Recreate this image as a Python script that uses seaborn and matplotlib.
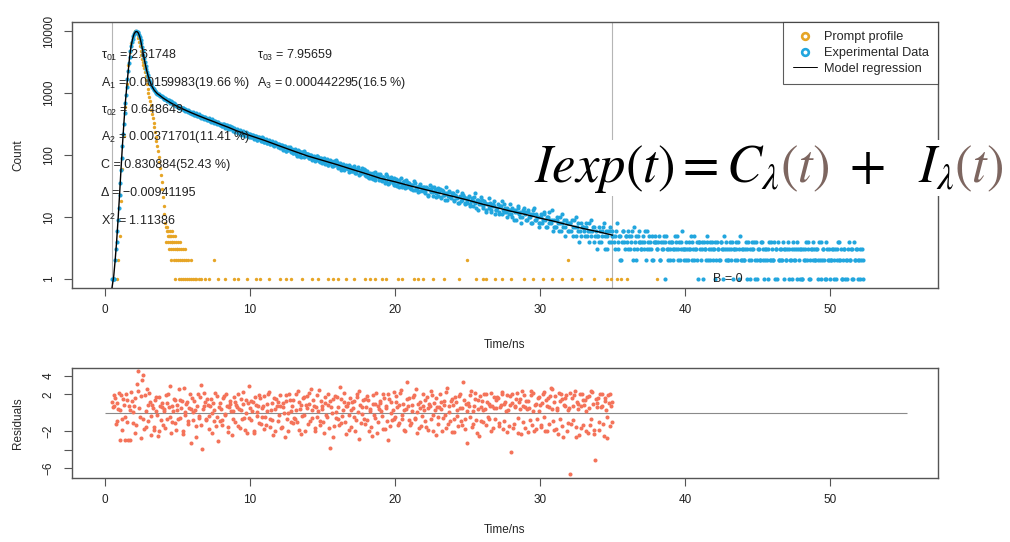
import numpy as np
import pandas as pd
import matplotlib
matplotlib.use("Agg")
import matplotlib.pyplot as plt
import seaborn as sns
from matplotlib.lines import Line2D
from matplotlib.patches import Rectangle
from matplotlib.transforms import IdentityTransform

# ---------------- data ----------------
# Time channels are 0.05 ns wide; counts of even channels start at 0.50 ns,
# counts of odd channels start at 0.55 ns.
channel_pitch_ns = 0.1
even_channel_start_ns = 0.5
odd_channel_start_ns = 0.55
experimental_counts_even = [
    1, 1, 2, 4, 9,
    23, 57, 142, 318, 690, 1255, 2240, 3870, 5690, 7420,
    8880, 9690, 9810, 9290, 7990, 6330, 4790, 3610, 2760, 2190,
    1790, 1530, 1330, 1215, 1105, 1045, 980, 950, 905, 880,
    847, 795, 812, 748, 761, 702, 728, 668, 671, 619,
    617, 579, 598, 547, 571, 521, 540, 489, 512, 470,
    461, 488, 441, 462, 418, 437, 402, 425, 383, 406,
    395, 361, 384, 343, 370, 331, 356, 318, 339, 305,
    322, 291, 311, 276, 301, 264, 289, 281, 247, 270,
    238, 262, 229, 251, 214, 241, 208, 233, 226, 197,
    219, 193, 210, 181, 205, 177, 198, 191, 168, 186,
    161, 182, 155, 175, 149, 170, 143, 164, 157, 137,
    152, 129, 144, 121, 139, 118, 134, 131, 111, 127,
    108, 125, 103, 119, 97, 113, 111, 92, 106, 102,
    104, 88, 101, 83, 97, 79, 95, 92, 76, 89,
    75, 91, 72, 86, 70, 83, 81, 66, 79, 74,
    77, 62, 74, 58, 71, 60, 69, 67, 54, 64,
    63, 55, 66, 51, 60, 57, 49, 61, 53, 58,
    46, 55, 43, 52, 48, 41, 54, 45, 50, 39,
    47, 38, 44, 35, 49, 41, 36, 45, 40, 33,
    33, 41, 36, 30, 43, 34, 38, 29, 37, 35,
    35, 28, 33, 38, 27, 31, 25, 34, 30, 26,
    31, 24, 29, 22, 33, 27, 25, 30, 21, 28,
    22, 28, 20, 26, 23, 30, 19, 25, 21, 24,
    24, 18, 22, 26, 17, 21, 19, 23, 16, 20,
    17, 22, 15, 20, 18, 24, 14, 19, 16, 21,
    19, 14, 17, 12, 16, 20, 13, 15, 18, 11,
    13, 16, 11, 15, 18, 12, 14, 10, 13, 16,
    11, 14, 9, 13, 12, 15, 10, 8, 12, 14,
    12, 9, 13, 10, 8, 11, 14, 9, 10, 7,
    8, 11, 9, 12, 7, 10, 8, 9, 13, 6,
    9, 7, 10, 6, 8, 11, 7, 5, 9, 8,
    6, 8, 9, 5, 7, 10, 6, 4, 8, 7,
    7, 5, 8, 6, 4, 9, 6, 7, 5, 3,
    5, 7, 4, 6, 8, 5, 3, 6, 7, 4,
    6, 4, 5, 8, 3, 5, 2, 6, 4, 5,
    4, 6, 3, 5, 2, 7, 5, 3, 6, 4,
    3, 5, 4, 2, 6, 3, 4, 5, 2, 4,
    4, 3, 5, 2, 3, 4, 1, 5, 3, 4,
    2, 4, 3, 5, 3, 2, 4, 3, 6, 3,
    3, 4, 2, 3, 5, 4, 2, 3, 4, 1,
    4, 2, 3, 4, 3, 5, 2, 4, 3, 2,
    3, 1, 4, 3, 2, 4, 3, 5, 2, 3,
    2, 4, 3, 1, 3, 4, 2, 3, 5, 2,
    3, 2, 4, 3, 2, 1, 4, 3, 2, 4,
    1, 3, 2, 4, 3, 2, 3, 1, 4, 2,
    3, 2, 1, 3, 4, 2, 3, 2, 1, 3,
    2, 4, 3, 2, 1, 3, 2, 4, 3, 1,
    3, 1, 2, 3, 2, 4, 1, 3, 2, 3,
    2, 3, 1, 2, 4, 3, 2, 1, 3, 2,
    1, 2, 3, 2, 1, 3, 4, 2, 1, 2,
    3, 2, 1, 4, 2, 3, 1, 2, 3, 2,
    2, 1, 3, 2,
]
experimental_counts_odd = [
    1, 1, 3, 6, 14,
    36, 90, 215, 470, 940, 1700, 3000, 4800, 6600, 8200,
    9350, 9850, 9600, 8750, 7150, 5500, 4150, 3150, 2450, 1980,
    1650, 1420, 1270, 1160, 1075, 1010, 965, 925, 895, 862,
    808, 826, 771, 785, 729, 744, 689, 701, 650, 628,
    603, 588, 566, 581, 539, 552, 507, 529, 481, 497,
    479, 447, 470, 429, 451, 411, 430, 394, 415, 377,
    372, 389, 352, 376, 338, 360, 325, 346, 311, 322,
    298, 315, 283, 304, 272, 293, 259, 278, 264, 243,
    255, 231, 247, 219, 236, 222, 203, 228, 211, 215,
    196, 212, 187, 201, 174, 194, 183, 171, 192, 162,
    176, 157, 168, 148, 163, 154, 139, 158, 145, 151,
    133, 147, 126, 138, 114, 131, 122, 137, 116, 109,
    121, 110, 98, 115, 104, 92, 109, 117, 95, 104,
    91, 99, 85, 94, 88, 83, 98, 79, 91, 81,
    86, 77, 81, 69, 78, 74, 67, 76, 70, 82,
    65, 72, 63, 70, 57, 66, 62, 59, 68, 56,
    56, 61, 52, 57, 64, 48, 55, 51, 59, 47,
    52, 45, 49, 42, 51, 46, 39, 48, 44, 50,
    39, 44, 41, 37, 46, 34, 42, 38, 35, 43,
    38, 32, 39, 35, 31, 37, 33, 40, 30, 34,
    29, 33, 27, 36, 30, 28, 32, 26, 29, 31,
    26, 30, 23, 28, 25, 31, 22, 27, 24, 29,
    25, 21, 27, 23, 19, 24, 22, 26, 20, 23,
    19, 23, 20, 17, 22, 18, 24, 21, 17, 19,
    20, 16, 18, 15, 21, 17, 19, 13, 18, 16,
    15, 18, 13, 16, 14, 17, 12, 16, 15, 13,
    14, 12, 15, 11, 13, 16, 12, 14, 11, 13,
    10, 13, 12, 9, 14, 11, 12, 10, 13, 11,
    9, 12, 10, 11, 8, 13, 9, 11, 10, 8,
    10, 8, 11, 9, 7, 10, 12, 8, 9, 7,
    7, 9, 8, 10, 6, 8, 9, 7, 8, 6,
    8, 6, 7, 9, 5, 7, 8, 6, 5, 7,
    6, 7, 5, 8, 6, 5, 7, 4, 6, 5,
    4, 6, 5, 7, 3, 6, 5, 4, 6, 5,
    5, 3, 6, 4, 5, 2, 4, 6, 3, 5,
    3, 5, 4, 6, 3, 4, 2, 5, 4, 3,
    4, 3, 6, 3, 4, 5, 3, 2, 4, 5,
    3, 4, 2, 4, 3, 5, 4, 3, 2, 3,
    4, 2, 3, 4, 5, 3, 2, 4, 3, 2,
    2, 3, 4, 3, 2, 3, 5, 3, 2, 4,
    3, 4, 1, 3, 2, 4, 3, 2, 4, 3,
    4, 2, 3, 2, 4, 3, 1, 3, 4, 2,
    3, 2, 4, 3, 2, 3, 4, 1, 2, 3,
    2, 3, 1, 4, 3, 2, 3, 4, 1, 2,
    3, 2, 4, 2, 1, 3, 2, 3, 2, 4,
    2, 4, 3, 1, 2, 3, 2, 4, 3, 2,
    3, 1, 2, 3, 4, 2, 3, 1, 2, 3,
    1, 3, 2, 4, 3, 1, 2, 3, 4, 2,
    3, 2, 4, 1, 2, 3, 1, 4, 2, 3,
    2, 3, 1, 3, 2, 4, 2, 3, 1, 3,
    1, 2, 3, 2, 3, 1, 4, 2, 3, 1,
    3, 2, 1,
]

prompt_time_ns = [
    0.8, 0.9, 1.0, 1.1, 1.2, 1.3, 1.4, 1.5, 1.6, 1.7, 1.8, 1.9, 2.0, 2.1, 2.15,
    2.2, 2.25, 2.3, 2.35, 2.4, 2.45, 2.5, 2.55, 2.6, 2.65, 2.7, 2.75, 2.8, 2.85,
    2.9, 2.95, 3.0, 3.05, 3.1, 3.15, 3.2, 3.25, 3.3, 3.35, 3.4, 3.45, 3.5, 3.55,
    3.6, 3.65, 3.7, 3.75, 3.8, 3.85, 3.9, 3.95, 4.0, 4.05, 4.1, 4.15,
    4.2, 4.3, 4.25, 4.35, 4.45, 4.6,
    4.32, 4.4, 4.5, 4.55, 4.7, 4.85,
    4.22, 4.37, 4.47, 4.62, 4.65, 4.75, 4.9, 5.05, 5.2,
    4.42, 4.52, 4.72, 4.8, 4.95, 5.0, 5.1, 5.25, 5.35, 5.5,
    4.57, 4.77, 4.92, 5.02, 5.15, 5.3, 5.45, 5.6, 5.75, 5.9, 7.5, 25.0, 31.9,
    4.82, 5.07, 5.22, 5.4, 5.52, 5.65, 5.8, 5.95, 6.05, 6.2, 6.3, 6.45, 6.6, 6.9,
    7.2, 7.8, 8.3, 8.9, 9.2, 9.8, 10.4, 10.7, 11.3, 12.1, 12.5, 12.8, 13.6, 14.3,
    14.7, 15.4, 15.7, 16.1, 16.6, 17.2, 17.9, 18.3, 18.6, 19.1, 19.4, 20.2, 20.5,
    21.3, 21.6, 21.9, 22.6, 23.4, 24.4, 25.6, 26.1, 26.3, 26.9, 27.4, 28.0, 28.9,
    29.5, 30.2, 30.8, 31.5, 32.2, 32.8, 33.7, 34.6, 34.9, 35.3, 35.6, 36.0, 38.1,
]
prompt_counts = [
    1, 2, 5, 18, 60, 200, 600, 1400, 2800, 4600, 6500, 8100, 9300, 9900, 9800,
    9500, 8700, 7800, 6700, 5700, 4800, 4100, 3600, 3200, 2850, 2500, 2150, 1850, 1600,
    1380, 1180, 1010, 870, 740, 630, 540, 460, 390, 330, 280, 235, 198, 166,
    138, 114, 94, 76, 61, 48, 37, 28, 21, 15, 11, 8,
    7, 7, 6, 6, 6, 6,
    5, 5, 5, 5, 5, 5,
    4, 4, 4, 4, 4, 4, 4, 4, 4,
    3, 3, 3, 3, 3, 3, 3, 3, 3, 3,
    2, 2, 2, 2, 2, 2, 2, 2, 2, 2, 2, 2, 2,
    1, 1, 1, 1, 1, 1, 1, 1, 1, 1, 1, 1, 1, 1,
    1, 1, 1, 1, 1, 1, 1, 1, 1, 1, 1, 1, 1, 1,
    1, 1, 1, 1, 1, 1, 1, 1, 1, 1, 1, 1, 1,
    1, 1, 1, 1, 1, 1, 1, 1, 1, 1, 1, 1, 1,
    1, 1, 1, 1, 1, 1, 1, 1, 1, 1, 1, 1, 1,
]

model_time_ns = [
    0.48, 0.6, 0.7, 0.8, 0.9, 1.0, 1.1, 1.2, 1.3, 1.4, 1.5, 1.6, 1.7, 1.8, 1.9,
    2.0, 2.1, 2.2, 2.3, 2.4, 2.5, 2.6, 2.7, 2.8, 2.9, 3.0, 3.2, 3.4, 3.6, 3.8,
    4.0, 4.5, 5.0, 5.5, 6.0, 6.5, 7.0, 7.5, 8.0, 8.5, 9.0, 9.5, 10, 11, 12, 13,
    14, 15, 16, 17, 18, 19, 20, 21, 22, 23, 24, 25, 26, 27, 28, 29, 30, 31, 32,
    33, 34, 35,
]
model_counts = [
    0.72, 1.1, 2, 4, 9, 22, 57, 140, 320, 690, 1260, 2240, 3860, 5700, 7420,
    8880, 9700, 9800, 9290, 8000, 6330, 4800, 3610, 2760, 2190, 1790, 1330, 1105, 980, 905,
    830, 700, 605, 535, 475, 425, 382, 345, 310, 280, 250, 226, 206, 172, 141, 116,
    96, 82, 70, 59, 50, 42, 37, 32, 28, 24.5, 21.5, 18.8, 16.2, 14.2, 12.4, 11.0, 9.6, 8.5, 7.4,
    6.5, 5.8, 5.1,
]

residuals_even = [
    1.2, 0.8, 1.6, -0.9, 0.4,
    -2.9, 1.9, -0.6, 0.9, -2.9, 1.4, -2.9, 0.3, 2.3, -1.1,
    0.7, -2.2, 3.1, 4.5, -0.4, 1.8, 4.1, -1.7, 0.2, 2.6,
    -0.9, 1.2, -2.4, 0.5, -1.5, 1.7, -0.2, -2.0, 0.8, 1.1,
    -1.3, 0.4, 1.9, -0.7, 0.6, 2.9, -1.0, 0.2, 1.4, -1.8,
    0.9, 2.6, -0.5, 1.3, -2.3, 0.1, 1.0, -1.2, 0.5, -3.3,
    1.6, -0.8, 0.3, -1.4, 2.0, -0.3, 3.0, -3.9, 0.7, 1.2,
    -0.6, 0.9, -1.7, 1.5, 0.0, -0.9, 2.2, -0.4, -3.0, 1.1,
    0.4, -1.3, 1.8, -0.2, 0.8, -2.1, 1.3, 0.2, -0.7, 1.7,
    -1.0, 0.6, 2.1, -1.6, 0.3, 1.0, -0.5, 1.4, -2.2, 2.9,
    0.5, -0.8, 1.2, -1.9, 0.9, 0.1, -1.1, 1.6, -0.4, 0.7,
    1.8, -1.3, 0.2, 2.3, -0.6, 1.1, -2.4, 0.4, 1.5, -0.9,
    -0.2, 1.9, -1.5, 0.6, -2.6, 1.3, 0.0, 2.0, -1.0, 0.8,
    1.4, -0.7, 0.3, 2.4, -1.8, 0.9, -0.3, 1.7, -2.0, 0.5,
    -1.2, 1.0, 2.6, -0.5, 0.7, -1.6, 1.9, 0.2, -0.9, 1.3,
    0.4, -2.2, 1.1, -0.4, 2.0, -3.8, 0.6, 1.5, -1.4, 0.1,
    1.7, -0.6, 2.8, -1.1, 0.3, 1.2, -2.3, 0.8, -0.2, 1.6,
    -1.5, 0.5, 1.3, -0.8, 2.1, -2.8, 0.9, -0.1, 1.4, -1.2,
    0.6, 1.8, -1.9, 0.2, -2.5, 1.0, -0.5, 2.2, -1.0, 0.4,
    1.1, -0.3, 2.0, -1.7, 0.7, -2.9, 1.5, 0.0, -0.8, 2.3,
    -0.4, 1.2, -1.3, 0.9, 2.5, -0.7, 0.3, -2.0, 3.3, 0.8,
    1.6, -1.1, 0.2, 1.9, -0.6, -2.2, 1.0, 0.5, -1.4, 2.1,
    0.3, -0.9, 1.7, -1.8, 0.8, 2.4, -0.2, 1.1, -2.4, 0.6,
    -1.2, 2.0, 0.4, -0.5, 1.3, -1.6, 2.7, 0.1, -0.9, 1.5,
    0.9, -2.1, 1.2, -0.3, 1.8, 0.5, -1.3, 3.3, -0.6, 1.0,
    -3.2, 0.7, 1.9, -1.5, 0.2, 2.2, -0.8, 1.4, -2.5, 0.6,
    1.3, -1.0, 0.4, 2.1, -0.4, 1.0, -1.9, 0.8, 1.7, -0.7,
    0.5, 1.6, -1.4, 0.9, 2.0, -0.9, 1.2, -2.1, 0.3, 1.8,
    -4.25, 1.1, -1.2, 0.6, 2.2, -0.5, 1.5, -2.3, 0.8, 1.9,
    -1.6, 0.4, 1.3, -0.8, 2.4, 0.2, -1.9, 1.0, -0.6, 1.7,
    0.9, -1.3, 2.1, -0.4, 1.4, -2.0, 0.6, 1.8, 2.6, -0.9,
    1.2, -1.7, 0.3, 2.2, -0.6, 1.5, -2.6, 0.8, 1.9, -1.1,
    0.5, -6.6, 1.6, -0.8, 2.4, -1.5, 1.0, -2.4, 0.7, 2.0,
    -1.3, 1.4, 0.2, -2.2, 1.8, -0.7, 2.3, -1.8, -5.1, 1.1,
    1.6, -1.0, 0.6, 2.1, -2.5, 1.3, -0.4, 1.9, -1.4, 0.8,
    1.2,
]
residuals_odd = [
    0.6, 1.9, -1.2, 1.1, 2.2,
    0.3, -1.8, 1.5, -0.4, 2.1, -1.0, 0.7, -2.9, 1.3, 0.1,
    1.6, -1.3, 2.4, 0.5, -2.7, 3.6, -0.6, 1.9, -1.5, 0.9,
    2.2, -0.3, 0.9, -1.8, 1.4, 0.2, -2.5, 1.7, -0.8, 0.6,
    0.2, -1.6, 1.1, 2.0, -0.4, -2.2, 0.8, 1.5, -1.1, 0.3,
    -0.7, 1.4, 0.5, -1.9, 2.7, -0.2, 1.2, -0.9, 2.0, 0.4,
    0.1, 1.3, -2.6, 0.8, -0.5, 1.7, -1.3, 0.4, 2.2, -0.8,
    1.5, -0.3, 0.7, -2.2, 1.1, 0.3, -1.4, 1.8, 0.6, -0.9,
    -0.8, 1.6, -0.1, 2.1, -1.5, 0.6, 1.0, -2.4, 0.2, 1.2,
    0.9, -1.4, 0.4, 1.5, -0.6, 2.3, -1.8, 0.0, 1.1, -0.5,
    1.3, 0.2, -2.2, 1.7, -0.3, 0.8, 1.9, -1.2, 0.5, -1.7,
    -0.4, 1.0, 2.0, -1.5, 0.3, -0.8, 1.6, -2.0, 0.7, 1.2,
    0.8, -1.6, 1.1, 0.0, 1.9, -0.6, -1.9, 1.4, 0.2, -1.1,
    -0.5, 2.1, -1.0, 1.2, 0.4, -2.3, 1.6, -0.2, 0.9, 1.8,
    2.2, -0.9, 0.3, 1.4, -1.9, 0.6, -0.4, 2.5, -1.3, 0.8,
    -1.0, 1.7, -0.2, 0.9, -1.6, 1.3, 0.0, -2.6, 1.8, -0.5,
    0.6, -1.3, 1.5, -0.3, 2.2, -1.0, 0.7, 1.1, -1.8, 0.3,
    1.2, -0.4, -1.9, 1.7, 0.1, 2.4, -1.1, 0.6, -0.6, 1.5,
    -0.8, 1.4, 0.4, -1.5, 1.9, -0.2, 1.0, -2.2, 0.8, 1.3,
    0.2, -1.7, 1.6, 0.5, -0.9, 2.0, -1.4, 1.2, 0.3, -0.6,
    1.8, 0.6, -1.1, 2.2, -0.2, 1.0, -1.8, 0.4, 1.5, -0.8,
    -1.3, 0.9, 1.7, -0.5, 2.6, 0.1, -1.6, 1.2, -0.3, 0.7,
    1.4, -1.5, 0.5, 1.0, -0.7, 1.9, -2.0, 0.3, 1.6, -0.4,
    0.6, 1.2, -1.9, 0.9, -0.2, 2.3, -1.2, 0.8, 1.3, -2.1,
    -0.6, 1.7, 0.3, -1.4, 2.1, -0.9, 0.5, 1.4, -1.7, 0.2,
    1.1, -0.4, 2.4, -1.2, 0.7, 1.5, -2.2, 0.4, 1.8, -0.9,
    0.3, 2.0, -1.3, 1.2, -0.6, 0.8, 2.2, -1.6, 0.5, 1.4,
    1.7, -1.1, 0.6, 2.3, -1.7, 1.0, 0.2, 1.9, -1.4, 0.9,
    2.0, -1.6, 0.8, 1.5, -2.2, 1.2, 0.4, 2.4, -1.0, 0.6,
    1.3, -2.1, 0.5, 1.9, -1.3, 2.2, 0.9, -1.7, 1.6, 0.2,
    -1.5, 1.1, 2.3, -2.0, 0.7, 1.6, -1.2, 2.7, 0.4, -1.8,
    1.8, 0.5, -2.3, 1.3, 2.1, -1.4, 0.9, 1.6, -2.0, 0.3,
    2.2, -1.2, 0.7, 1.9, -2.6, 1.2, 0.4, 2.0, -1.6, 1.4,
    0.9, -2.0, 1.7, 0.5, -1.3, 2.4, 1.0, -2.3, 1.5, 0.6,
    -1.8, 2.1, 0.8, -1.2, 1.6, 0.3, -2.7, 1.1, 2.0, -1.0,
]
residual_line_range_ns = [0.0, 55.3]
fit_window_ns = [0.48, 35.0]

x_ticks = [0, 10, 20, 30, 40, 50]
count_ticks = [1, 10, 100, 1000, 10000]
count_tick_labels = ["1", "10", "100", "1000", "10000"]
resid_ticks = [-6, -4, -2, 2, 4]
resid_tick_labels = ["\u22126", "", "\u22122", "2", "4"]

fit_lines_left = [
    "\u03c4$_{01}$ = 2.61748",
    "A$_1$ = 0.00159983(19.66 %)",
    "\u03c4$_{02}$ = 0.648649",
    "A$_2$ = 0.00371701(11.41 %)",
    "C = 0.830884(52.43 %)",
    "\u0394 = \u22120.00941195",
    "X$^2$ = 1.11386",
]
fit_lines_right = [
    "\u03c4$_{03}$ = 7.95659",
    "A$_3$ = 0.000442295(16.5 %)",
]
legend_labels = ["Prompt profile", "Experimental Data", "Model regression"]
background_label = "B = 0"

# ---------------- style ----------------
ORANGE = "#e6a526"
BLUE = "#22a6de"
RESID = "#f4735a"
FRAME = "#555555"
GUIDE = "#b5b5b5"
BROWN = "#7d6660"

sns.set_style("white")
plt.rcParams["font.family"] = ["Liberation Sans", "DejaVu Sans"]
plt.rcParams["mathtext.fontset"] = "custom"
plt.rcParams["mathtext.rm"] = "Liberation Sans"
plt.rcParams["mathtext.it"] = "Liberation Sans:italic"
plt.rcParams["mathtext.bf"] = "Liberation Sans:bold"
plt.rcParams["axes.unicode_minus"] = True

W, H = 1010, 542
fig = plt.figure(figsize=(W / 100, H / 100), dpi=100)


def add_axes_px(left, top, right, bottom):
    return fig.add_axes([left / W, 1 - bottom / H, (right - left) / W, (bottom - top) / H])


ax = add_axes_px(72, 22, 938, 288)
axr = add_axes_px(72, 368, 938, 478)


def channel_times(start, n):
    return np.round(start + channel_pitch_ns * np.arange(n), 3)


exp_df = pd.concat([
    pd.DataFrame({"t": channel_times(even_channel_start_ns, len(experimental_counts_even)),
                  "count": experimental_counts_even}),
    pd.DataFrame({"t": channel_times(odd_channel_start_ns, len(experimental_counts_odd)),
                  "count": experimental_counts_odd}),
]).sort_values("t")
exp_df = exp_df[exp_df["count"] > 0]
prompt_df = pd.DataFrame({"t": prompt_time_ns, "count": prompt_counts})
model_df = pd.DataFrame({"t": model_time_ns, "count": model_counts})
res_df = pd.concat([
    pd.DataFrame({"t": channel_times(even_channel_start_ns, len(residuals_even)),
                  "r": residuals_even}),
    pd.DataFrame({"t": channel_times(odd_channel_start_ns, len(residuals_odd)),
                  "r": residuals_odd}),
]).sort_values("t")

XLIM = (-2.276, 57.45)

# ---- top panel ----
ax.set_yscale("log")
for xv in fit_window_ns:
    ax.axvline(xv, color=GUIDE, lw=0.8, zorder=0)
sns.scatterplot(data=prompt_df, x="t", y="count", ax=ax, color=ORANGE, s=6,
                linewidth=0, legend=False, zorder=2)
sns.scatterplot(data=exp_df, x="t", y="count", ax=ax, color=BLUE, s=9,
                linewidth=0, legend=False, zorder=3)
sns.lineplot(data=model_df, x="t", y="count", ax=ax, color="black", lw=1.0,
             sort=False, estimator=None, zorder=4)
ax.set_xlim(*XLIM)
ax.set_ylim(0.716, 13970)
ax.set_xticks(x_ticks)
ax.set_xticklabels([str(v) for v in x_ticks])
ax.set_yticks(count_ticks)
ax.set_yticklabels(count_tick_labels)
ax.minorticks_off()
ax.set_xlabel("Time/ns", fontsize=8.5)
ax.set_ylabel("Count", fontsize=8.5)
ax.xaxis.set_label_coords(0.5, -0.19)
ax.yaxis.set_label_coords(-0.0555, 0.5)

# fit parameter annotations
row_y_px = [55, 83, 110, 137, 165, 193, 220]
for txt, ypx in zip(fit_lines_left, row_y_px):
    ax.text(101, H - ypx, txt, transform=IdentityTransform(), fontsize=9,
            ha="left", va="center", color="#222222", zorder=6)
for txt, ypx in zip(fit_lines_right, row_y_px[:2]):
    ax.text(257, H - ypx, txt, transform=IdentityTransform(), fontsize=9,
            ha="left", va="center", color="#222222", zorder=6)
ax.text(42.97, 1.0, background_label, fontsize=9, ha="center", va="center",
        color="#222222", zorder=6)

handles = [
    Line2D([], [], ls="", marker="o", ms=4.8, mfc="none", mec=ORANGE, mew=1.9),
    Line2D([], [], ls="", marker="o", ms=4.8, mfc="none", mec=BLUE, mew=1.9),
    Line2D([], [], color="black", lw=0.7),
]
leg = ax.legend(handles, legend_labels, loc="upper right", borderaxespad=0,
                fontsize=9.2, frameon=True, fancybox=False, edgecolor="#333333",
                handlelength=1.9, handletextpad=0.55, labelspacing=0.3,
                borderpad=0.72)
leg.get_frame().set_linewidth(0.8)
leg.set_zorder(7)

# ---- residual panel ----
axr.hlines(0, residual_line_range_ns[0], residual_line_range_ns[1], color="#8a8a8a",
           lw=0.8, zorder=1)
sns.scatterplot(data=res_df, x="t", y="r", ax=axr, color=RESID, s=8.5, linewidth=0,
                legend=False, zorder=2)
axr.set_xlim(*XLIM)
axr.set_ylim(-7.03, 4.86)
axr.set_xticks(x_ticks)
axr.set_xticklabels([str(v) for v in x_ticks])
axr.set_yticks(resid_ticks)
axr.set_yticklabels(resid_tick_labels)
axr.set_xlabel("Time/ns", fontsize=8.5)
axr.set_ylabel("Residuals", fontsize=8.5)
axr.xaxis.set_label_coords(0.5, -0.42)
axr.yaxis.set_label_coords(-0.0555, 0.5)

for a in (ax, axr):
    for sp in a.spines.values():
        sp.set_visible(True)
        sp.set_color(FRAME)
        sp.set_linewidth(1.0)
    a.tick_params(axis="both", direction="out", length=5.5, width=0.8, color=FRAME,
                  labelsize=8.5, labelcolor="#222222", left=True, bottom=True)
    a.tick_params(axis="x", pad=6)
    a.tick_params(axis="y", pad=7, labelrotation=90)
    for lab in a.get_yticklabels():
        lab.set_va("center")
    a.grid(False)

# ---- overlaid formula ----
fig.patches.append(Rectangle((528, H - 196), 482, 56, transform=IdentityTransform(),
                             facecolor="white", edgecolor="none", zorder=2.5))
pieces = [
    (r"$Iexp(t) = C_{\lambda}$", "black"),
    (r"$(t)$", BROWN),
    (r"$\ +\ \ I_{\lambda}$", "black"),
    (r"$(t)$", BROWN),
]
renderer = fig.canvas.get_renderer()
x_px = 534
base_px = H - 182
for s, col in pieces:
    t = fig.text(x_px, base_px, s, transform=IdentityTransform(), fontsize=38,
                 color=col, ha="left", va="baseline", math_fontfamily="stix", zorder=5)
    bb = t.get_window_extent(renderer)
    x_px = bb.x1

fig.savefig("out.png", dpi=100)
